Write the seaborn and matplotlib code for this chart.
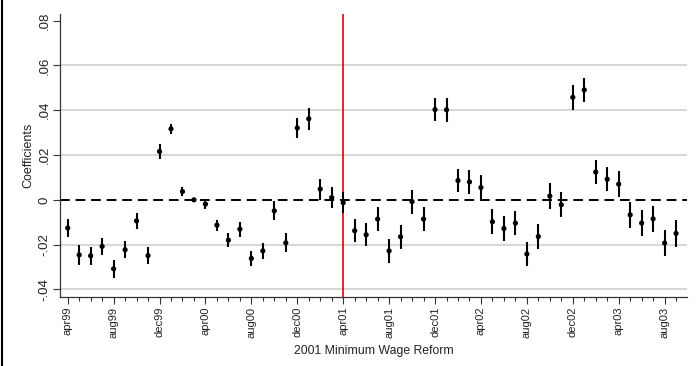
import matplotlib
matplotlib.use("Agg")
import matplotlib.pyplot as plt
from matplotlib.lines import Line2D
from matplotlib.ticker import FixedLocator
import seaborn as sns
import pandas as pd
import numpy as np

# monthly coefficients, apr99 .. sep03
months = pd.date_range("1999-04-01", periods=54, freq="MS").strftime("%b%y").str.lower()
coef = [-0.0126, -0.0246, -0.0250, -0.0208, -0.0308, -0.0223, -0.0094, -0.0249,
        0.0216, 0.0317, 0.0037, 0.0000, -0.0019, -0.0113, -0.0180, -0.0131,
        -0.0262, -0.0228, -0.0049, -0.0192,
        0.0321, 0.0362, 0.0048, 0.0010, -0.0013, -0.0138, -0.0156, -0.0086,
        -0.0228, -0.0165, -0.0008, -0.0086,
        0.0403, 0.0402, 0.0086, 0.0080, 0.0055, -0.0098, -0.0128, -0.0104,
        -0.0242, -0.0164, 0.0017, -0.0022,
        0.0458, 0.0491, 0.0124, 0.0092, 0.0070, -0.0067, -0.0104, -0.0085,
        -0.0193, -0.0150]
ci_half = [0.0042, 0.0043, 0.0041, 0.0037, 0.0039, 0.0037, 0.0037, 0.0038,
           0.0035, 0.0022, 0.0019, 0.0008, 0.0020, 0.0024, 0.0030, 0.0033,
           0.0033, 0.0036, 0.0042, 0.0043,
           0.0045, 0.0048, 0.0047, 0.0047, 0.0048, 0.0052, 0.0051, 0.0053,
           0.0054, 0.0054, 0.0054, 0.0052,
           0.0052, 0.0054, 0.0053, 0.0054, 0.0054, 0.0055, 0.0054, 0.0054,
           0.0054, 0.0054, 0.0056, 0.0055,
           0.0056, 0.0054, 0.0054, 0.0054, 0.0057, 0.0058, 0.0057, 0.0059,
           0.0060, 0.0060]
xtick_labels = ["apr99", "aug99", "dec99", "apr00", "aug00", "dec00", "apr01",
                "aug01", "dec01", "apr02", "aug02", "dec02", "apr03", "aug03"]
ytick_vals = [-0.04, -0.02, 0, 0.02, 0.04, 0.06, 0.08]
ytick_labels = ["-.04", "-.02", "0", ".02", ".04", ".06", ".08"]
reform_month = "apr01"

df = pd.DataFrame({"month": months, "coef": coef, "half": ci_half})
df["pos"] = np.arange(len(df))
df["lo"] = df["coef"] - df["half"]
df["hi"] = df["coef"] + df["half"]

sns.set_style("ticks")
plt.rcParams["font.family"] = ["Liberation Sans", "DejaVu Sans"]

fig = plt.figure(figsize=(6.98, 3.66), dpi=100)
ax = fig.add_axes([60 / 698, 1 - 297 / 366, 627 / 698, 283 / 366])

# grid lines (not at 0, not at .08)
for v in [-0.04, -0.02, 0.02, 0.04, 0.06]:
    ax.axhline(v, color="#d4d4d4", lw=1.3, zorder=0)
ax.axhline(0, color="black", lw=1.4, ls=(0, (5, 3)), zorder=1)

ax.vlines(df["pos"], df["lo"], df["hi"], color="black", lw=1.5, zorder=3)
sns.scatterplot(data=df, x="pos", y="coef", ax=ax, color="black", s=14,
                edgecolor="none", zorder=4, legend=False)

reform_pos = df.loc[df["month"] == reform_month, "pos"].iloc[0]
ax.axvline(reform_pos, color="#e00000", lw=1.2, zorder=2)

ax.set_xlim(-0.67, 53.95)
ax.set_ylim(-0.0434, 0.083)

ax.set_xticks(df["pos"][::4])
ax.set_xticklabels(xtick_labels, rotation=90, fontsize=8, color="#222222")
ax.xaxis.set_minor_locator(FixedLocator(df["pos"]))
ax.tick_params(axis="x", which="major", length=5, width=0.8, pad=2, color="#333333")
ax.tick_params(axis="x", which="minor", length=3, width=0.8, color="#333333")

ax.set_yticks(ytick_vals)
ax.set_yticklabels(ytick_labels, rotation=90, va="center", fontsize=9.5, color="#222222")
ax.tick_params(axis="y", length=5, width=0.8, pad=2, color="#333333")

ax.set_xlabel("2001 Minimum Wage Reform", fontsize=8.8, color="#222222", labelpad=5)
ax.set_ylabel("Coefficients", fontsize=9, color="#222222", labelpad=3)

sns.despine(ax=ax)
for side in ["left", "bottom"]:
    ax.spines[side].set_color("#333333")
    ax.spines[side].set_linewidth(0.9)

# left frame edge of the exported graph
fig.add_artist(Line2D([2 / 698, 2 / 698], [0, 1], color="black", lw=1.5))

fig.savefig("out.png", dpi=100)
